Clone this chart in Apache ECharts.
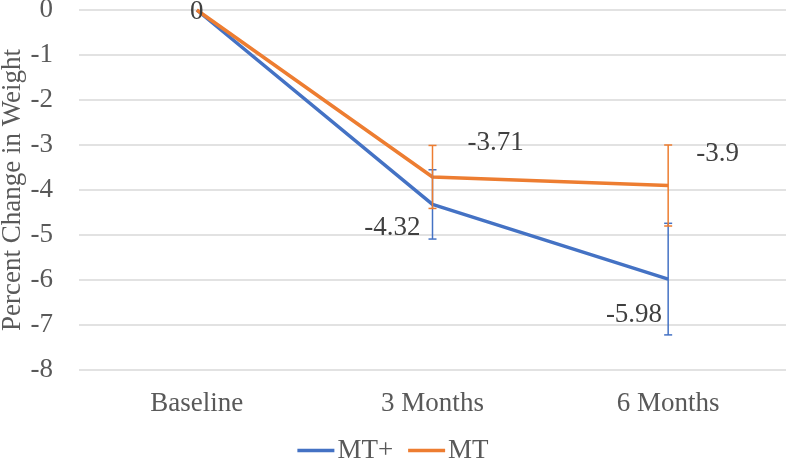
<!DOCTYPE html>
<html>
<head>
<meta charset="utf-8">
<script src="https://cdn.jsdelivr.net/npm/echarts@6/dist/echarts.min.js"></script>
<style>
html,body{margin:0;padding:0;background:#fff;}
#chart{width:786px;height:458px;}
</style>
</head>
<body>
<div id="chart"></div>
<script>
const categories = ['Baseline', '3 Months', '6 Months'];
const mtPlus = [0, -4.32, -5.98];
const mt = [0, -3.71, -3.9];
const mtPlusErr = [null, 0.77, 1.24];
const mtErr = [null, 0.70, 0.90];
const seriesNames = ['MT+', 'MT'];

const BLUE = '#4472C4';
const ORANGE = '#ED7D31';
const FONT = '"Liberation Serif", "Times New Roman", serif';
const TXT = '#595959';
const LBL = '#404040';

const mtPlusLabels = [
  { show: false },
  { show: true, position: 'left', distance: 12, offset: [0, 24] },
  { show: true, position: 'left', distance: 6, offset: [0, 36] }
];
const mtLabels = [
  { show: true, position: 'inside', offset: [0, 2] },
  { show: true, position: 'right', distance: 35, offset: [0, -34] },
  { show: true, position: 'right', distance: 28, offset: [0, -32] }
];

function lineData(vals, labels) {
  return vals.map((v, i) => ({ value: v, label: labels[i] }));
}
function errData(vals, errs) {
  const out = [];
  vals.forEach((v, i) => { if (errs[i] != null) out.push([i, v - errs[i], v + errs[i]]); });
  return out;
}
function errSeries(vals, errs, color) {
  return {
    type: 'custom',
    data: errData(vals, errs),
    z: 5,
    silent: true,
    renderItem: function (params, api) {
      const x = api.value(0);
      const lo = api.coord([x, api.value(1)]);
      const hi = api.coord([x, api.value(2)]);
      const hw = 4;
      const style = { stroke: color, lineWidth: 1.5 };
      return {
        type: 'group',
        children: [
          { type: 'line', shape: { x1: lo[0], y1: lo[1], x2: hi[0], y2: hi[1] }, style: style },
          { type: 'line', shape: { x1: lo[0] - hw, y1: lo[1], x2: lo[0] + hw, y2: lo[1] }, style: style },
          { type: 'line', shape: { x1: hi[0] - hw, y1: hi[1], x2: hi[0] + hw, y2: hi[1] }, style: style }
        ]
      };
    }
  };
}

const chart = echarts.init(document.getElementById('chart'), null, { renderer: 'canvas' });
chart.setOption({
  animation: false,
  textStyle: { fontFamily: FONT },
  grid: { left: 79, right: 0, top: 10, bottom: 88, containLabel: false, outerBoundsMode: 'none' },
  legend: {
    bottom: -11,
    left: 'center',
    itemWidth: 37,
    itemHeight: 27,
    itemGap: 15,
    textStyle: { fontFamily: FONT, fontSize: 27, color: TXT, padding: [0, 0, 0, -2] },
    data: [
      { name: seriesNames[0], icon: 'path://M0,12.5 L37,12.5 L37,16 L0,16 Z', itemStyle: { color: BLUE } },
      { name: seriesNames[1], icon: 'path://M0,12.5 L37,12.5 L37,16 L0,16 Z', itemStyle: { color: ORANGE } }
    ]
  },
  xAxis: {
    type: 'category',
    data: categories,
    boundaryGap: true,
    axisLine: { show: false },
    axisTick: { show: false },
    axisLabel: { fontFamily: FONT, fontSize: 27, color: TXT, margin: 20 }
  },
  yAxis: {
    type: 'value',
    min: -8,
    max: 0,
    interval: 1,
    name: 'Percent Change in Weight',
    nameLocation: 'middle',
    nameGap: 53,
    nameMoveOverlap: false,
    nameTextStyle: { fontFamily: FONT, fontSize: 27, color: TXT },
    axisLine: { show: false },
    axisTick: { show: false },
    axisLabel: { fontFamily: FONT, fontSize: 27, color: TXT, margin: 26 },
    splitLine: { lineStyle: { color: '#d9d9d9', width: 1.5 } }
  },
  series: [
    {
      name: seriesNames[0],
      type: 'line',
      data: lineData(mtPlus, mtPlusLabels),
      symbol: 'circle',
      symbolSize: 0.1,
      z: 3,
      lineStyle: { color: BLUE, width: 3.5 },
      itemStyle: { color: BLUE },
      label: { fontFamily: FONT, fontSize: 27, color: LBL },
      emphasis: { disabled: true }
    },
    {
      name: seriesNames[1],
      type: 'line',
      data: lineData(mt, mtLabels),
      symbol: 'circle',
      symbolSize: 0.1,
      z: 4,
      lineStyle: { color: ORANGE, width: 3.5 },
      itemStyle: { color: ORANGE },
      label: { fontFamily: FONT, fontSize: 27, color: LBL },
      emphasis: { disabled: true }
    },
    errSeries(mtPlus, mtPlusErr, BLUE),
    errSeries(mt, mtErr, ORANGE)
  ]
});
</script>
</body>
</html>
